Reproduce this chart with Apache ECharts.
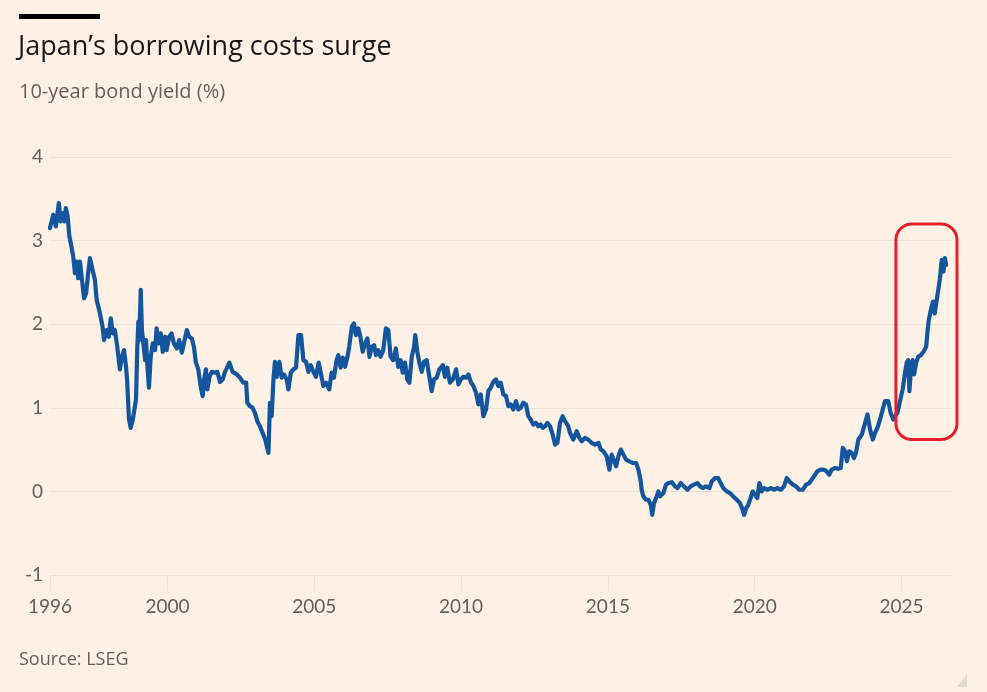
<!DOCTYPE html>
<html>
<head>
<meta charset="utf-8">
<title>Japan's borrowing costs surge</title>
<script src="https://cdn.jsdelivr.net/npm/echarts@6/dist/echarts.min.js"></script>
<style>
html,body{margin:0;padding:0;background:#fff1e5;}
#chart{width:987px;height:692px;}
</style>
</head>
<body>
<div id="chart"></div>
<script>
// dates as decimal years
var years = [
  1996.00,1996.06,1996.11,1996.20,1996.30,1996.36,1996.42,1996.49,1996.54,1996.60,1996.66,1996.74,1996.79,1996.85,1996.91,1996.96,
  1997.02,1997.08,1997.16,1997.23,1997.30,1997.36,1997.45,1997.53,1997.59,1997.70,1997.79,1997.84,1997.93,
  1998.00,1998.07,1998.14,1998.21,1998.29,1998.38,1998.45,1998.52,1998.59,1998.63,1998.69,1998.75,1998.82,1998.88,1998.93,1998.97,
  1999.01,1999.04,1999.09,1999.13,1999.18,1999.24,1999.27,1999.31,1999.37,1999.43,1999.50,1999.58,1999.63,1999.70,1999.77,1999.84,1999.92,1999.97,
  2000.06,2000.14,2000.22,2000.32,2000.40,2000.49,2000.56,2000.66,2000.74,2000.83,2000.90,2000.97,
  2001.05,2001.13,2001.20,2001.25,2001.31,2001.36,2001.43,2001.51,2001.62,2001.70,2001.79,2001.88,2001.96,
  2002.11,2002.22,2002.36,2002.47,2002.58,2002.68,2002.72,2002.81,2002.90,2002.98,
  2003.06,2003.15,2003.24,2003.33,2003.44,2003.49,2003.55,2003.61,2003.66,2003.72,2003.81,2003.89,2003.97,
  2004.06,2004.12,2004.20,2004.29,2004.38,2004.46,2004.55,2004.63,2004.72,2004.80,2004.88,2004.97,
  2005.06,2005.15,2005.22,2005.31,2005.40,2005.51,2005.59,2005.67,2005.76,2005.82,2005.90,2005.97,
  2006.05,2006.13,2006.19,2006.28,2006.35,2006.42,2006.50,2006.56,2006.65,2006.73,2006.81,2006.88,2006.96,
  2007.04,2007.10,2007.18,2007.26,2007.35,2007.44,2007.52,2007.60,2007.69,2007.78,2007.86,2007.94,
  2008.01,2008.09,2008.17,2008.24,2008.32,2008.40,2008.44,2008.51,2008.58,2008.66,2008.74,2008.83,2008.92,
  2009.00,2009.08,2009.17,2009.26,2009.38,2009.45,2009.53,2009.62,2009.72,2009.83,2009.91,2009.99,
  2010.08,2010.17,2010.25,2010.33,2010.42,2010.51,2010.59,2010.67,2010.76,2010.85,2010.93,
  2011.01,2011.10,2011.19,2011.27,2011.35,2011.44,2011.53,2011.61,2011.69,2011.78,2011.87,2011.95,
  2012.03,2012.12,2012.21,2012.29,2012.37,2012.46,2012.55,2012.63,2012.71,2012.78,2012.86,2012.94,
  2013.03,2013.12,2013.20,2013.28,2013.37,2013.46,2013.54,2013.65,2013.71,2013.82,2013.94,
  2014.03,2014.11,2014.22,2014.33,2014.45,2014.56,2014.68,2014.76,2014.85,2014.96,
  2015.05,2015.13,2015.21,2015.28,2015.36,2015.44,2015.53,2015.62,2015.73,2015.85,2015.96,
  2016.04,2016.12,2016.15,2016.21,2016.30,2016.38,2016.46,2016.51,2016.57,2016.64,2016.72,2016.78,2016.89,2016.98,
  2017.06,2017.18,2017.29,2017.37,2017.48,2017.59,2017.71,2017.82,2017.93,
  2018.05,2018.14,2018.23,2018.34,2018.46,2018.54,2018.65,2018.76,2018.84,2018.93,
  2019.05,2019.16,2019.27,2019.39,2019.50,2019.59,2019.64,2019.71,2019.78,2019.84,2019.93,
  2020.01,2020.09,2020.16,2020.24,2020.32,2020.43,2020.55,2020.66,2020.77,2020.89,
  2021.00,2021.09,2021.18,2021.30,2021.41,2021.52,2021.64,2021.75,2021.86,2021.94,
  2022.06,2022.13,2022.25,2022.36,2022.45,2022.54,2022.62,2022.74,2022.85,2022.93,
  2023.00,2023.08,2023.14,2023.22,2023.31,2023.38,2023.45,2023.53,2023.65,2023.76,2023.84,2023.93,
  2024.02,2024.10,2024.18,2024.27,2024.36,2024.44,2024.55,2024.63,2024.72,2024.78,2024.86,2024.95,
  2025.04,2025.12,2025.18,2025.23,2025.27,2025.32,2025.38,2025.43,2025.50,2025.57,2025.66,2025.75,2025.84,2025.88,2025.93,
  2026.00,2026.07,2026.13,2026.20,2026.26,2026.31,2026.37,2026.43,2026.48,2026.52
];

// 10-year JGB yield, %
var yields = [
  3.15,3.13,3.31,3.17,3.45,3.23,3.33,3.23,3.39,3.29,3.05,2.91,2.81,2.61,2.75,2.55,
  2.75,2.56,2.31,2.37,2.61,2.79,2.65,2.53,2.29,2.13,1.97,1.81,1.93,
  1.85,2.07,1.89,1.93,1.73,1.46,1.61,1.69,1.49,1.31,0.86,0.76,0.86,0.86,1.10,1.69,
  2.03,1.81,2.41,1.93,1.77,1.57,1.81,1.54,1.24,1.61,1.77,1.69,1.95,1.77,1.89,1.67,1.85,1.69,
  1.85,1.89,1.77,1.71,1.81,1.66,1.77,1.93,1.85,1.83,1.73,1.54,
  1.46,1.26,1.14,1.34,1.46,1.22,1.37,1.43,1.42,1.43,1.31,1.34,1.43,
  1.54,1.43,1.40,1.36,1.30,1.30,1.06,1.02,1.00,0.94,
  0.84,0.78,0.70,0.62,0.46,1.06,0.90,1.34,1.55,1.37,1.55,1.36,1.40,
  1.34,1.22,1.42,1.46,1.48,1.87,1.87,1.57,1.55,1.43,1.51,1.43,
  1.37,1.54,1.42,1.26,1.30,1.22,1.42,1.36,1.57,1.63,1.48,1.60,
  1.49,1.61,1.73,1.97,2.01,1.87,1.95,1.87,1.67,1.77,1.83,1.61,1.73,
  1.75,1.63,1.69,1.61,1.69,1.95,1.93,1.61,1.57,1.71,1.49,1.57,
  1.42,1.54,1.34,1.30,1.61,1.73,1.87,1.67,1.54,1.43,1.55,1.57,1.37,
  1.20,1.34,1.36,1.46,1.51,1.37,1.48,1.30,1.34,1.46,1.28,1.34,
  1.37,1.36,1.40,1.31,1.26,1.18,1.04,1.16,0.90,0.98,1.20,
  1.24,1.31,1.34,1.26,1.30,1.16,1.14,1.02,1.04,0.98,1.08,0.98,
  1.00,1.06,1.04,0.90,0.86,0.80,0.82,0.78,0.80,0.76,0.78,0.82,
  0.78,0.68,0.56,0.58,0.82,0.90,0.84,0.78,0.70,0.62,0.72,
  0.64,0.60,0.64,0.62,0.58,0.56,0.58,0.50,0.48,0.42,
  0.26,0.44,0.36,0.30,0.42,0.50,0.44,0.38,0.36,0.34,0.34,
  0.26,0.12,0.02,-0.06,-0.10,-0.10,-0.16,-0.28,-0.14,-0.08,0.00,-0.06,-0.02,0.08,
  0.10,0.11,0.06,0.04,0.10,0.06,0.02,0.06,0.08,
  0.10,0.06,0.04,0.06,0.04,0.12,0.16,0.16,0.10,0.04,
  0.00,-0.02,-0.06,-0.10,-0.14,-0.22,-0.28,-0.20,-0.16,-0.10,0.00,
  -0.04,-0.08,0.10,0.00,0.04,0.02,0.04,0.02,0.04,0.02,
  0.06,0.16,0.12,0.08,0.06,0.02,0.02,0.08,0.10,0.14,
  0.20,0.24,0.26,0.26,0.24,0.20,0.26,0.28,0.27,0.28,
  0.52,0.48,0.36,0.48,0.46,0.40,0.46,0.62,0.68,0.82,0.92,0.74,
  0.62,0.70,0.76,0.86,0.98,1.08,1.08,0.94,0.86,0.84,0.94,1.08,
  1.22,1.42,1.54,1.57,1.20,1.46,1.57,1.40,1.54,1.61,1.63,1.67,1.73,1.89,2.05,
  2.17,2.27,2.13,2.29,2.43,2.55,2.77,2.63,2.79,2.71
];

var tickYears = [1996, 2000, 2005, 2010, 2015, 2020, 2025];

// red highlight box round the latest surge
var boxYears = [2024.81, 2026.89];
var boxYields = [0.62, 3.20];

var font = 'Lato, "Noto Sans", sans-serif';
var headFont = '"Open Sans", Lato, sans-serif';
var grey = '#66605c';
var gridCol = '#eee3d8';

var chart = echarts.init(document.getElementById('chart'));

var seriesData = [];
for (var i = 0; i < years.length; i++) {
  seriesData.push([years[i], yields[i]]);
}

var option = {
  animation: false,
  backgroundColor: '#fff1e5',
  grid: { left: 50, right: 35, top: 157, bottom: 117 },
  xAxis: {
    type: 'value',
    min: 1996,
    max: 2026.72,
    axisLine: { show: true, onZero: false, lineStyle: { color: gridCol, width: 1 } },
    axisTick: { show: true, customValues: tickYears, length: 16, lineStyle: { color: gridCol } },
    axisLabel: {
      customValues: tickYears,
      formatter: function (v) { return String(v); },
      color: grey, fontSize: 19, fontFamily: font, margin: 22
    },
    splitLine: { show: false }
  },
  yAxis: {
    type: 'value',
    min: -1,
    max: 4,
    interval: 1,
    axisLine: { show: false },
    axisTick: { show: false },
    axisLabel: { color: grey, fontSize: 19, fontFamily: font, margin: 7 },
    splitLine: { lineStyle: { color: gridCol, width: 1 } }
  },
  series: [{
    type: 'line',
    data: seriesData,
    showSymbol: false,
    lineStyle: { color: '#13569e', width: 4.2, join: 'round', cap: 'round' }
  }]
};
chart.setOption(option);

// title block + annotation
var p1 = chart.convertToPixel({ gridIndex: 0 }, [boxYears[0], boxYields[1]]);
var p2 = chart.convertToPixel({ gridIndex: 0 }, [boxYears[1], boxYields[0]]);

chart.setOption({
  graphic: [
    { id: 'bar', type: 'rect', shape: { x: 19, y: 14, width: 81, height: 5 }, style: { fill: '#000' } },
    { id: 'title', type: 'text', x: 18, y: 47,
      style: { text: 'Japan\u2019s borrowing costs surge', font: '27px ' + headFont, fill: '#1a1817', verticalAlign: 'middle' } },
    { id: 'sub', type: 'text', x: 19, y: 92,
      style: { text: '10-year bond yield (%)', font: '20px ' + headFont, fill: grey, verticalAlign: 'middle' } },
    { id: 'source', type: 'text', x: 19, y: 660,
      style: { text: 'Source: LSEG', font: '18px ' + headFont, fill: grey, verticalAlign: 'middle' } },
    { id: 'box', type: 'rect', z: 100,
      shape: { x: p1[0], y: p1[1], width: p2[0] - p1[0], height: p2[1] - p1[1], r: 16 },
      style: { fill: 'none', stroke: '#e3202b', lineWidth: 3 } },
    { id: 'corner', type: 'polygon',
      shape: { points: [[957, 687], [967, 674], [967, 687]] },
      style: { fill: '#e2d9cf' } }
  ]
});
</script>
</body>
</html>
